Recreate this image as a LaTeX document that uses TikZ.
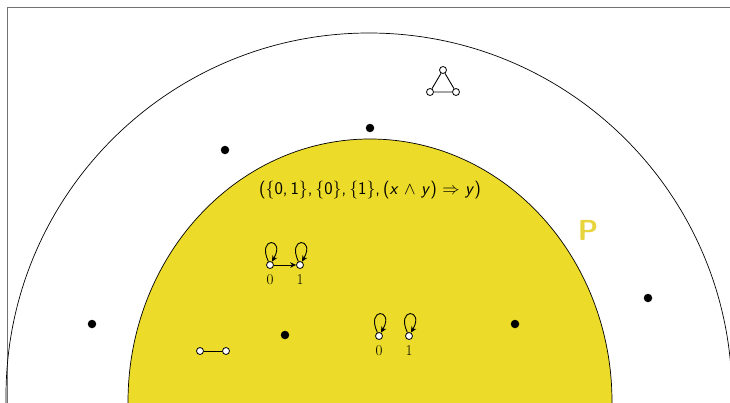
\documentclass[tikz,border=0pt]{standalone}
\usetikzlibrary{arrows.meta}
\definecolor{pyellow}{RGB}{236,219,40}
\definecolor{pletter}{RGB}{232,212,60}
\begin{document}
\begin{tikzpicture}[x=1pt,y=-1pt,
  dot/.style={circle,fill=black,minimum size=8.5pt,inner sep=0pt},
  vert/.style={circle,draw,fill=white,minimum size=7pt,inner sep=0pt,line width=0.8pt},
  lbl/.style={font=\fontsize{15}{17}\selectfont,inner sep=0pt},
  edge/.style={line width=0.9pt},
  arr/.style={line width=0.9pt,-{Stealth[length=6pt,width=5.5pt]}},
  lp/.style={arr,out=115,in=60,min distance=28pt,looseness=8}]
\useasboundingbox (0,0) rectangle (730,402);
\clip (0,0) rectangle (730,402);
% frame
\draw[gray!90!black,line width=1pt] (7,420) -- (7,7) -- (745,7);
% outer circle
\draw[line width=0.7pt] (369,396) circle (363);
% inner ellipse
\filldraw[fill=pyellow,draw=black,line width=0.7pt] (370,402) ellipse [x radius=242,y radius=263];
% P label
\node[text=pletter,font=\fontsize{29}{32}\selectfont\sffamily\bfseries,inner sep=0pt] (P) at (588,230) {P};
% formula
\node[font=\fontsize{17.8}{20}\selectfont\sffamily,inner sep=0pt] (f) at (370,190)
  {(\{0,\,1\},\,\{0\},\,\{1\},\,(\textit{x} $\wedge$ \textit{y}) $\Rightarrow$ \textit{y})};
% dots
\node[dot] (d1) at (225,150) {};
\node[dot] (d2) at (370,128) {};
\node[dot] (d3) at (92,324) {};
\node[dot] (d4) at (285,335) {};
\node[dot] (d5) at (515,324) {};
\node[dot] (d6) at (648,298) {};
% triangle
\node[vert] (t1) at (443,70) {};
\node[vert] (t2) at (430,92) {};
\node[vert] (t3) at (456,92) {};
\draw[edge] (t1) -- (t2) -- (t3) -- (t1);
% edge graph
\node[vert] (e1) at (200,351) {};
\node[vert] (e2) at (226,351) {};
\draw[edge] (e1) -- (e2);
% graph with arrow
\node[vert] (a0) at (270,265) {};
\node[vert] (a1) at (300,265) {};
\node[lbl] (la0) at (270,280) {0};
\node[lbl] (la1) at (300,280) {1};
\draw[lp] (a0) to (a0);
\draw[lp] (a1) to (a1);
\draw[arr] (a0) -- (a1);
% graph with loops only
\node[vert] (b0) at (379,336) {};
\node[vert] (b1) at (409,336) {};
\node[lbl] (lb0) at (379,351) {0};
\node[lbl] (lb1) at (409,351) {1};
\draw[lp] (b0) to (b0);
\draw[lp] (b1) to (b1);
\end{tikzpicture}
\end{document}
